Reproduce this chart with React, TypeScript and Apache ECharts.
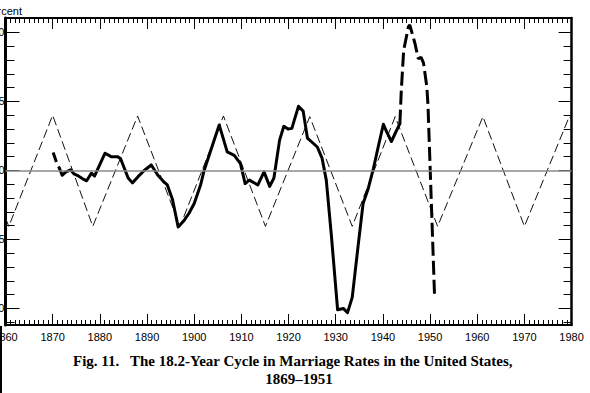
import React, { useEffect, useRef } from "react";
import * as echarts from "echarts";

// 18.2-year cycle (thin dashed triangle wave), vertices
const cycleWave: [number, number][] = [
  [1860, -3.45], [1860.7, -4.05], [1870, 4.0], [1878.5, -4.05], [1888, 3.95],
  [1897, -4.05], [1906.2, 3.95], [1915.1, -4.05], [1924.5, 3.9], [1933.5, -4.05],
  [1942.6, 3.9], [1951.6, -4.05], [1961.2, 3.9], [1970, -4.05], [1979.5, 3.9], [1980, 3.7],
];

// Marriage rate deviations (thick line)
const rateStartDashed: [number, number][] = [
  [1870.1, 1.3], [1870.8, 0.6], [1871.5, 0.1],
];
const rateSolid: [number, number][] = [
  [1871.5, 0.1], [1872, -0.35], [1872.8, -0.1], [1873.8, 0.05], [1874.5, -0.25],
  [1875.2, -0.35], [1876.6, -0.65], [1877.2, -0.75], [1878.2, -0.2], [1878.9, -0.4],
  [1881.1, 1.25], [1882.4, 1.0], [1883.8, 1.0], [1884.4, 0.85], [1886, -0.55],
  [1886.9, -0.9], [1888.1, -0.45], [1889.4, 0], [1890.9, 0.4], [1892.3, -0.35],
  [1893.5, -0.8], [1894.3, -1.05], [1895.4, -2.1], [1896.6, -4.1], [1897.9, -3.6],
  [1898.9, -3.1], [1900, -2.4], [1901.4, -1.0], [1902.1, 0], [1905.3, 3.3],
  [1907, 1.35], [1908.5, 1.1], [1909.8, 0.5], [1910.8, -0.95], [1911.7, -0.7],
  [1913.5, -1.05], [1914.8, -0.1], [1916, -1.15], [1916.9, -0.55], [1918.1, 2.2],
  [1919, 3.2], [1919.9, 3.0], [1920.7, 3.05], [1922.1, 4.65], [1923.1, 4.3],
  [1924, 2.35], [1924.8, 2.1], [1926.1, 1.7], [1927.1, 0.9], [1928, -0.7],
  [1929.1, -4.8], [1930.4, -10.1], [1931.6, -10.0], [1932.5, -10.3], [1933.5, -9.2],
  [1934.8, -5.3], [1935.8, -2.4], [1936.9, -1.3], [1938, 0.15], [1939, 1.7],
  [1940.1, 3.35], [1940.8, 2.8], [1941.8, 2.1], [1942.9, 2.9], [1943.6, 3.4],
];
const rateEndDashed: [number, number][] = [
  [1943.6, 3.4], [1943.9, 5.8], [1944.4, 8.7], [1945.4, 10.4], [1945.7, 10.55],
  [1946.8, 9.2], [1947.5, 8.1], [1948.1, 8.2], [1948.6, 7.8], [1949.3, 6.1],
  [1949.55, 4.8], [1950.95, -9.1],
];

const yMajorTicks = [-10, -5, 0, 5, 10];
const yMinorTicks = [-11, -10, -9, -8, -7, -6, -5, -4, -3, -2, -1, 0, 1, 2, 3, 4, 5, 6, 7, 8, 9, 10, 11];
const yTitle = "Percent";
const captionFig = "Fig. 11.";
const captionLine1 = "The 18.2-Year Cycle in Marriage Rates in the United States,";
const captionLine2 = "1869\u20131951";

const Y_MIN = -11.2;
const Y_MAX = 11.05;

export default function App() {
  const ref = useRef<HTMLDivElement>(null);
  useEffect(() => {
    if (!ref.current) return;
    const chart = echarts.init(ref.current, null, { renderer: "svg" });
    const black = "#000";
    const xBase = (pos: "top" | "bottom", showLabel: boolean) => ({
      type: "value",
      min: 1860,
      max: 1980,
      interval: 10,
      position: pos,
      axisLine: { show: true, onZero: false, lineStyle: { color: black, width: 2 } },
      axisTick: { show: true, inside: true, length: 11, lineStyle: { color: black, width: 1 } },
      minorTick: { show: true, splitNumber: 10, length: 5, lineStyle: { color: black, width: 1 } },
      axisLabel: {
        show: showLabel,
        margin: 6,
        color: black,
        fontSize: 11,
        fontFamily: "Liberation Sans",
        showMinLabel: true,
        showMaxLabel: true,
        hideOverlap: false,
        formatter: (v: number) => String(v),
      },
      splitLine: { show: false },
      minorSplitLine: { show: false },
    });
    const yBase = (pos: "left" | "right", ticks: number[], len: number, lineW: number, showLine: boolean, showLabel: boolean) => ({
      type: "value",
      min: Y_MIN,
      max: Y_MAX,
      position: pos,
      axisLine: { show: showLine, onZero: false, lineStyle: { color: black, width: lineW } },
      axisTick: { show: true, inside: true, length: len, customValues: ticks, lineStyle: { color: black, width: 1 } },
      axisLabel: {
        show: showLabel,
        customValues: yMajorTicks,
        margin: 1,
        color: black,
        fontSize: 11,
        fontFamily: "Liberation Sans",
        formatter: (v: number) => String(v),
      },
      splitLine: { show: false },
    });
    chart.setOption({
      animation: false,
      grid: { left: 5.5, right: 18.4, top: 18, height: 307, containLabel: false, outerBoundsMode: "none" },
      xAxis: [xBase("bottom", true), xBase("top", false)],
      yAxis: [
        yBase("left", yMinorTicks, 9, 3, true, true),
        yBase("left", yMajorTicks, 14, 3, false, false),
        yBase("right", yMinorTicks, 8, 2.5, true, false),
        yBase("right", yMajorTicks, 13, 2.5, false, false),
      ],
      series: [
        {
          type: "line",
          data: cycleWave,
          xAxisIndex: 0,
          yAxisIndex: 0,
          symbol: "none",
          z: 2,
          lineStyle: { color: "#111", width: 1, type: [9, 4] },
          markLine: {
            silent: true,
            symbol: ["none", "none"],
            label: { show: false },
            lineStyle: { color: "#8a8a8a", width: 1.5, type: "solid" },
            data: [{ yAxis: 0 }],
          },
        },
        {
          type: "line",
          data: rateStartDashed,
          symbol: "none",
          z: 3,
          lineStyle: { color: black, width: 3, type: [10, 5] },
        },
        {
          type: "line",
          data: rateSolid,
          symbol: "none",
          z: 3,
          lineStyle: { color: black, width: 3, join: "round", cap: "round" },
        },
        {
          type: "line",
          data: rateEndDashed,
          symbol: "none",
          z: 3,
          lineStyle: { color: black, width: 3, type: [14, 5] },
        },
      ],
      graphic: [
        {
          type: "text",
          x: 22,
          y: 11,
          style: {
            text: yTitle,
            align: "right",
            verticalAlign: "middle",
            fill: black,
            font: "11px 'Liberation Sans'",
          },
        },
        {
          type: "text",
          x: 73,
          y: 361,
          style: {
            text: captionFig,
            align: "left",
            verticalAlign: "middle",
            fill: black,
            font: "bold 15px 'Liberation Serif'",
          },
        },
        {
          type: "text",
          x: 130,
          y: 361,
          style: {
            text: captionLine1,
            align: "left",
            verticalAlign: "middle",
            fill: black,
            font: "bold 15px 'Liberation Serif'",
          },
        },
        {
          type: "text",
          x: 299,
          y: 379,
          style: {
            text: captionLine2,
            align: "center",
            verticalAlign: "middle",
            fill: black,
            font: "bold 15px 'Liberation Serif'",
          },
        },
        {
          type: "line",
          shape: { x1: 1, y1: 326, x2: 1, y2: 393 },
          style: { stroke: black, lineWidth: 2 },
        },
      ],
    });
    return () => chart.dispose();
  }, []);
  return (
    <div
      ref={ref}
      style={{ position: "absolute", left: 0, top: 0, width: 590, height: 393, background: "#fff" }}
    />
  );
}
